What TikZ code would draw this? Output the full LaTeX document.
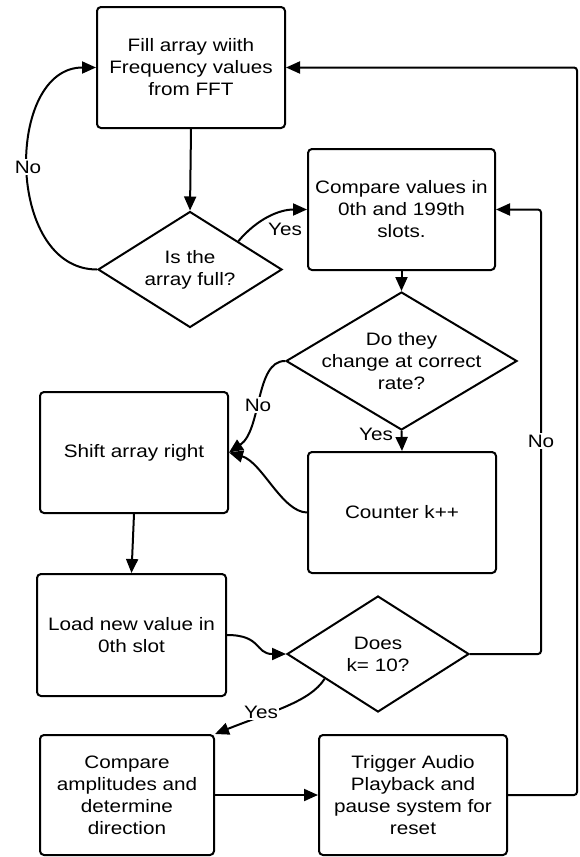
\documentclass[tikz,border=0pt]{standalone}
\usepackage{fontspec}
\setmainfont{Liberation Sans}[FakeStretch=1.15]
\usetikzlibrary{shapes.geometric,arrows.meta,calc}
\begin{document}
\begin{tikzpicture}[x=1pt,y=1pt,
  every node/.style={font=\fontsize{18}{22}\selectfont},
  box/.style={draw,line width=2pt,rounded corners=4pt,align=center,inner sep=0pt},
  dia/.style={draw,line width=2pt,shape=diamond,inner sep=0pt},
  dtext/.style={align=center,inner sep=0pt},
  lbl/.style={fill=white,inner sep=1.5pt},
  arr/.style={line width=2pt,-{Triangle[length=14pt,width=12pt]}}]
\useasboundingbox (0,0) rectangle (579,-857);
% boxes
\node[box,minimum width=188pt,minimum height=121pt] (b1) at (191,-67.5) {Fill array wiith\\Frequency values\\from FFT};
\node[box,minimum width=187pt,minimum height=121pt] (b2) at (401.5,-209.5) {Compare values in\\0th and 199th\\slots.};
\node[box,minimum width=188pt,minimum height=121pt] (b3) at (134,-452.5) {Shift array right};
\node[box,minimum width=188pt,minimum height=121pt] (b4) at (402,-512.5) {Counter k++};
\node[box,minimum width=189pt,minimum height=122pt] (b5) at (131.5,-635) {Load new value in\\0th slot};
\node[box,minimum width=174pt,minimum height=120pt] (b6) at (127,-795) {Compare\\amplitudes and\\determine\\direction};
\node[box,minimum width=188pt,minimum height=120pt] (b7) at (413,-795) {Trigger Audio\\Playback and\\pause system for\\reset};
% diamonds
\node[dia,minimum width=184pt,minimum height=116pt,label={[dtext]center:Is the\\array full?}] (d1) at (190,-269.5) {};
\node[dia,minimum width=231pt,minimum height=138pt,label={[dtext]center:Do they\\change at correct\\rate?}] (d2) at (401.5,-361) {};
\node[dia,minimum width=182pt,minimum height=116pt,label={[dtext]center:Does\\k= 10?}] (d3) at (378,-654) {};
% connectors
\draw[arr] (b1.south) -- (d1.north);
\draw[arr] (d1.west) .. controls (5,-269.5) and (5,-67.5) .. (b1.west);
\draw[arr] ($(d1.north)!0.52!(d1.east)$) .. controls (258,-218) and (280,-209.5) .. (b2.west);
\draw[arr] (b2.south) -- (d2.north);
\draw[arr] (d2.west) .. controls (255,-361) and (262,-430) .. (b3.east);
\draw[arr] (d2.south) -- (b4.north);
\draw[arr] (b4.west) .. controls (282,-512) and (262,-462) .. (b3.east);
\draw[arr] (b3.south) -- (b5.north);
\draw[arr] (b5.east) .. controls (262,-635) and (255,-654) .. (d3.west);
\draw[arr] ($(d3.west)!0.42!(d3.south)$) .. controls (310,-702) and (270,-712) .. (b6.north east);
\draw[arr] (b6.east) -- (b7.west);
\draw[arr,rounded corners=3pt] (b7.east) -- (577,-795) |- (b1.east);
\draw[arr,rounded corners=3pt] (d3.east) -- (541,-654) |- (b2.east);
% labels
\node[lbl] (l1) at (28,-167) {No};
\node[lbl,fill=none] (l2) at (285,-229) {Yes};
\node[lbl] (l3) at (258,-405) {No};
\node[lbl,fill=none] (l4) at (376,-434) {Yes};
\node[lbl] (l5) at (541,-441) {No};
\node[lbl] (l6) at (261,-712) {Yes};
\end{tikzpicture}
\end{document}
